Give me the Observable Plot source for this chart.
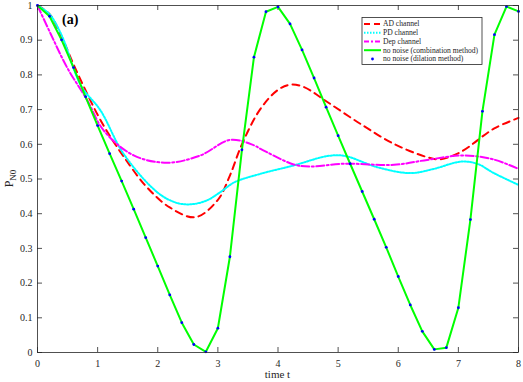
<!DOCTYPE html>
<html>
<head>
<meta charset="utf-8">
<script src="https://cdn.jsdelivr.net/npm/d3@7"></script>
<script src="https://cdn.jsdelivr.net/npm/@observablehq/plot@0.6"></script>
<style>
  html, body { margin: 0; padding: 0; background: white; }
  #chart svg, #chart svg text, #chart svg tspan { font-family: "Liberation Serif", "Times New Roman", serif !important; }
</style>
</head>
<body>
<div id="chart"></div>
<script>
// ---- data ----
const xTicks = [0, 1, 2, 3, 4, 5, 6, 7, 8];
const yTicks = [0, 0.1, 0.2, 0.3, 0.4, 0.5, 0.6, 0.7, 0.8, 0.9, 1];
const yTickLabels = ["0", "0.1", "0.2", "0.3", "0.4", "0.5", "0.6", "0.7", "0.8", "0.9", "1"];

const seriesNames = ["AD channel", "PD channel", "Dep channel", "no noise (combination method)", "no noise (dilation method)"];

// no noise (both methods), sampled every 0.2
const tNoNoise = [0, 0.2, 0.4, 0.6, 0.8, 1.0, 1.2, 1.4, 1.6, 1.8, 2.0, 2.2, 2.4, 2.6, 2.8, 3.0, 3.2, 3.4, 3.6, 3.8, 4.0,
  4.2, 4.4, 4.6, 4.8, 5.0, 5.2, 5.4, 5.6, 5.8, 6.0, 6.2, 6.4, 6.6, 6.8, 7.0, 7.2, 7.4, 7.6, 7.8, 8.0];
const pNoNoise = [1.0, 0.969, 0.901, 0.821, 0.737, 0.654, 0.573, 0.494, 0.413, 0.331, 0.249, 0.166, 0.086, 0.023, 0.002, 0.070, 0.276, 0.584, 0.851, 0.982, 0.996,
  0.947, 0.872, 0.791, 0.707, 0.625, 0.544, 0.464, 0.384, 0.303, 0.219, 0.137, 0.061, 0.009, 0.014, 0.129, 0.383, 0.695, 0.916, 0.997, 0.983];

// AD channel
const tAD = [0, 0.2, 0.4, 0.6, 0.8, 1.0, 1.2, 1.44, 1.8, 2.2, 2.63, 3.0, 3.2, 3.4, 3.7, 4.0, 4.21, 4.43, 4.82, 5.37, 5.93, 6.48, 6.7, 7.04, 7.59, 8.0];
const pAD = [1.0, 0.975, 0.91, 0.83, 0.755, 0.685, 0.625, 0.563, 0.48, 0.418, 0.39, 0.44, 0.51, 0.60, 0.70, 0.757, 0.772, 0.765, 0.722, 0.659, 0.601, 0.563, 0.557, 0.578, 0.645, 0.676];

// PD channel
const tPD = [0, 0.2, 0.4, 0.72, 1.05, 1.43, 1.99, 2.3, 2.54, 2.8, 3.04, 3.27, 3.71, 4.26, 4.82, 5.1, 5.65, 6.2, 6.59, 7.04, 7.31, 7.59, 8.0];
const pPD = [1.0, 0.975, 0.915, 0.77, 0.697, 0.573, 0.462, 0.432, 0.427, 0.437, 0.462, 0.49, 0.515, 0.539, 0.566, 0.567, 0.534, 0.517, 0.529, 0.55, 0.544, 0.517, 0.483];

// Dep channel
const tDep = [0, 0.22, 0.49, 0.83, 1.1, 1.6, 2.16, 2.71, 3.21, 3.6, 3.71, 4.26, 4.54, 5.09, 5.93, 6.48, 7.09, 7.59, 8.0];
const pDep = [1.0, 0.918, 0.822, 0.726, 0.64, 0.568, 0.547, 0.568, 0.613, 0.597, 0.587, 0.542, 0.536, 0.544, 0.541, 0.555, 0.568, 0.556, 0.529];

const toRows = (ts, ps) => ts.map((t, i) => ({t, p: ps[i]}));
const ad = toRows(tAD, pAD);
const pd = toRows(tPD, pPD);
const dep = toRows(tDep, pDep);
const nn = toRows(tNoNoise, pNoNoise);

const axisColor = "#262626";
const W = 523, H = 382, mL = 37, mR = 5, mT = 5, mB = 30;
const frameW = W - mL - mR, frameH = H - mT - mB;
const tickLen = 5;
const serif = "Liberation Serif, Times New Roman, serif";

const chart = Plot.plot({
  width: W, height: H,
  marginLeft: mL, marginRight: mR, marginTop: mT, marginBottom: mB,
  x: {domain: [0, 8]},
  y: {domain: [0, 1]},
  style: {fontFamily: serif, fontSize: "10px", color: axisColor, background: "white", overflow: "visible"},
  marks: [
    Plot.axisX(xTicks, {tickSize: 0, tickPadding: 7, label: null, tickFormat: d => String(d), fill: axisColor}),
    Plot.axisY(yTicks, {tickSize: 0, tickPadding: 5, label: null, tickFormat: (d, i) => yTickLabels[i], fill: axisColor}),
    Plot.tickX(xTicks, {x: d => d, insetTop: frameH - tickLen, stroke: axisColor, strokeWidth: 0.8}),
    Plot.tickX(xTicks, {x: d => d, insetBottom: frameH - tickLen, stroke: axisColor, strokeWidth: 0.8}),
    Plot.tickY(yTicks, {y: d => d, insetRight: frameW - tickLen, stroke: axisColor, strokeWidth: 0.8}),
    Plot.tickY(yTicks, {y: d => d, insetLeft: frameW - tickLen, stroke: axisColor, strokeWidth: 0.8}),
    Plot.line(ad, {x: "t", y: "p", stroke: "#ff0000", strokeWidth: 2, strokeDasharray: "7,5", curve: "catmull-rom"}),
    Plot.line(pd, {x: "t", y: "p", stroke: "#00ffff", strokeWidth: 2, strokeDasharray: "1.5,1.5", curve: "catmull-rom"}),
    Plot.line(dep, {x: "t", y: "p", stroke: "#ff00ff", strokeWidth: 2, strokeDasharray: "8,2.5,2,2.5", curve: "catmull-rom"}),
    Plot.line(nn, {x: "t", y: "p", stroke: "#00ff00", strokeWidth: 2}),
    Plot.dot(nn, {x: "t", y: "p", fill: "#0000ff", r: 1.4, stroke: null}),
    Plot.frame({stroke: axisColor, strokeWidth: 0.8})
  ]
});

document.getElementById("chart").appendChild(chart);

// ---- annotations: axis labels, panel label, legend ----
const svg = d3.select(chart);

svg.append("text")
  .attr("x", mL + frameW / 2).attr("y", 378)
  .attr("text-anchor", "middle")
  .attr("font-size", 11).attr("fill", axisColor)
  .text("time t");

const yl = svg.append("text")
  .attr("transform", `translate(13,${mT + frameH / 2}) rotate(-90)`)
  .attr("text-anchor", "middle")
  .attr("font-size", 12).attr("fill", axisColor);
yl.append("tspan").text("P");
yl.append("tspan").attr("font-size", 9).attr("dy", 3).text("N0");

svg.append("text")
  .attr("x", 62).attr("y", 24)
  .attr("text-anchor", "start")
  .attr("font-size", 14).attr("font-weight", "bold").attr("fill", "#000")
  .text("(a)");

// legend
const lg = svg.append("g").attr("font-size", 7.6).attr("fill", axisColor).attr("text-anchor", "start");
const lx = 362, ly = 17.5, lw = 120, lh = 47;
lg.append("rect").attr("x", lx).attr("y", ly).attr("width", lw).attr("height", lh)
  .attr("fill", "white").attr("stroke", axisColor).attr("stroke-width", 0.8);
const legendStyles = [
  {stroke: "#ff0000", dash: "6,4", line: true},
  {stroke: "#00ffff", dash: "1.5,1.5", line: true},
  {stroke: "#ff00ff", dash: "5,2,2,2", line: true},
  {stroke: "#00ff00", dash: null, line: true},
  {stroke: "#0000ff", dash: null, line: false}
];
const rowY = [24, 32.7, 41.5, 50.2, 59];
seriesNames.forEach((name, i) => {
  const s = legendStyles[i];
  const y = rowY[i];
  if (s.line) {
    const l = lg.append("line").attr("x1", 364).attr("x2", 381).attr("y1", y).attr("y2", y)
      .attr("stroke", s.stroke).attr("stroke-width", 2);
    if (s.dash) l.attr("stroke-dasharray", s.dash);
  } else {
    lg.append("circle").attr("cx", 372.5).attr("cy", y).attr("r", 1.4).attr("fill", s.stroke);
  }
  lg.append("text").attr("x", 383).attr("y", y).attr("dy", "0.32em").attr("text-anchor", "start").text(name);
});

// force the serif face on every text element, inline
svg.selectAll("text, tspan")
  .attr("font-family", "Liberation Serif")
  .style("font-family", "'Liberation Serif', 'Times New Roman', serif", "important");
</script>
</body>
</html>
